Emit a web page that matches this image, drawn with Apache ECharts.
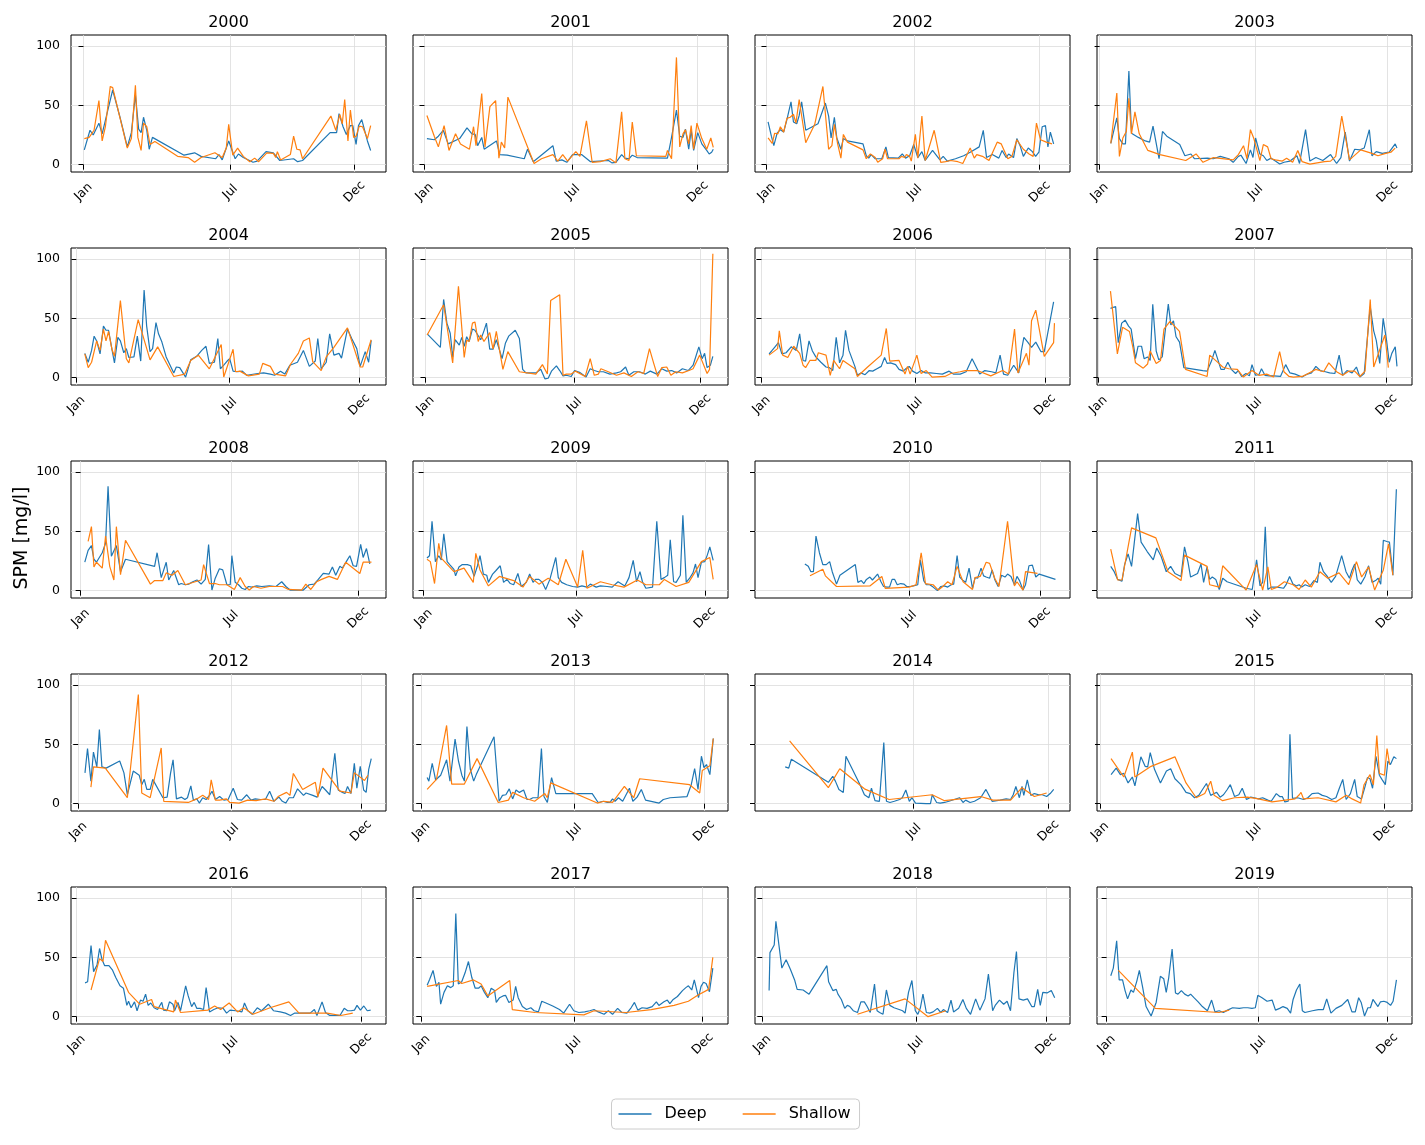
<!DOCTYPE html>
<html><head><meta charset="utf-8">
<script src="https://cdn.jsdelivr.net/npm/echarts@6/dist/echarts.min.js"></script>
<style>html,body{margin:0;padding:0;background:#fff}#c{width:1425px;height:1145px}</style>
</head><body><div id="c"></div>
<script>
const years = [2000,2001,2002,2003,2004,2005,2006,2007,2008,2009,2010,2011,2012,2013,2014,2015,2016,2017,2018,2019];
const tickDays = [0,181,334];
const tickNames = ['Jan','Jul','Dec'];
const yTicks = [0,50,100];
const xRanges = [[-15.4,372.9],[-14,371],[-14,371],[-3,362.5],[-6.3,365.5],[-15.2,367.4],[-7.6,363.3],[-1.6,363.4],[-11.6,367.5],[-12.6,361.6],[0.7,369],[0.2,363],[-8.5,363.4],[-9.7,362.4],[0.7,358.5],[-3.5,366.3],[-6.5,363],[-9.8,364],[-8.6,362],[-11.4,363.5]];
const yRange = [-6.2,109.4];

const deep2000 = [[1,12.5],[8,29],[12,25],[19,35],[23,26],[30,46],[36,63],[45,40],[54,15],[59,27],[64,59],[68,30],[71,27],[74,40],[78,29],[81,13],[85,23],[124,8],[137,10],[145,7],[163,5],[167,8.5],[171,4],[179,20],[187,5],[191,9],[197,6],[209,2],[214,3],[225,11],[234,10],[242,3.5],[259,5],[264,2.5],[270,3.5],[304,27],[312,27],[315,43],[320,32],[324,25.5],[329,33],[332,33],[336,17],[339,33],[343,38],[350,20],[354,12]];
const shallow2000 = [[1,22],[7,23],[13,29],[19,54],[23,20],[27,32],[33,66],[36,65],[54,14],[59,22],[64,67],[67,23],[71,12],[74,35],[78,32],[82,17],[88,19.5],[116,7],[129,6],[137,2],[145,6],[162,10],[171,6],[176,14],[179,34],[184,8],[190,14],[197,7],[205,2.5],[211,5.5],[216,2.5],[226,10],[234,9.5],[237,6],[239,11],[243,4],[255,8.5],[259,24],[263,13],[267,12.5],[270,5],[305,41],[311,29],[316,42.5],[319,34.5],[322,55],[326,20],[329,46],[333,23],[336,24],[340,32.5],[344,32],[350,22],[354,33]];
const deep2001 = [[3,22],[12,21],[17,24],[23,29],[29,17.5],[43,22],[52,31],[58,26],[62,25.5],[65,16],[70,23],[73,13],[88,20],[92,8.5],[101,8],[122,5],[126,13],[133,2.5],[157,16],[161,3],[168,4],[174,2],[181,8.5],[186,8.5],[192,8.5],[203,2.5],[225,3.5],[229,1.5],[234,2],[241,8.5],[245,5.5],[250,5],[254,8],[260,6],[297,5.5],[302,23],[308,46],[312,24],[316,23],[319,30],[323,13],[326,29],[329,12],[334,27],[339,17.5],[345,12],[348,9],[351,10.5],[353,13]];
const shallow2001 = [[3,41.5],[12,24],[17,15],[24,33],[30,12],[38,26],[44,17.5],[55,13],[60,32],[63,16],[70,60],[74,15],[80,49],[87,54],[91,5.5],[94,19],[98,14],[102,57],[134,1],[143,5],[157,8.5],[163,3],[169,8.5],[175,3],[185,11],[190,7],[198,37],[205,2],[215,2.5],[227,5],[234,1.5],[241,44.5],[245,5],[250,3.5],[254,36],[259,7.5],[295,7],[297,12],[302,5],[308,90.5],[312,15],[316,26],[319,29.5],[323,17.5],[326,33],[329,13],[333,35],[339,22],[345,13],[350,22.5],[353,14.5]];
const deep2002 = [[2,36],[6,24],[9,16],[13,26.5],[17,29.5],[21,27.5],[25,38],[30,53],[33,36],[37,34.5],[40,41.5],[43,53],[48,29],[63,34.5],[72,52],[76,41],[79,22.5],[83,40],[86,22.5],[91,13],[94,22],[99,20],[118,17.5],[122,7.5],[125,5.5],[128,8.5],[133,5],[141,5],[146,15],[149,6],[161,5.5],[166,9],[170,5.5],[175,7.5],[180,17],[185,6],[190,11],[194,3.5],[203,12],[212,4],[216,7],[221,3],[231,5],[241,7.5],[249,10.5],[260,15],[265,29],[269,6],[276,8.5],[284,5.5],[288,12],[293,6],[296,9],[302,6],[306,22],[310,16],[314,7],[320,14],[325,11],[329,7],[333,10.5],[337,32],[341,33],[344,15],[347,27.5],[351,17.5]];
const shallow2002 = [[2,22.5],[7,18],[10,26.5],[14,26],[17,32],[21,27.5],[25,39],[29,40],[33,42.5],[36,35],[40,55],[48,18.5],[59,34],[69,66],[76,13],[80,16],[83,34],[87,17.5],[91,5.5],[94,25.5],[99,19],[118,12.5],[122,5],[127,9],[133,6],[136,2],[142,5],[145,13],[148,5],[162,5],[165,7],[169,6],[171,8.5],[175,7],[177,3],[182,25.5],[185,5.5],[190,41],[194,3.5],[205,29],[213,2],[219,2.5],[225,3.5],[234,2.5],[240,1],[249,14],[254,5.5],[257,8.5],[264,7],[272,3.5],[282,19],[287,17.5],[295,5],[300,7],[306,21],[314,13],[321,9],[326,7],[330,35],[335,21],[342,19],[349,17.5]];
const deep2003 = [[13,18],[20,39.5],[23,22],[27,17.5],[30,17.5],[34,79],[37,26.5],[45,23],[53,20],[58,19],[62,32.5],[69,5],[73,28],[78,24],[93,17],[99,7.5],[106,9],[110,5],[125,5.5],[132,5],[140,7],[150,5],[155,2],[161,7],[164,8],[170,1],[175,12.5],[178,6],[181,22.5],[186,9],[190,7.5],[194,3.5],[199,5.5],[204,3],[209,0.5],[214,2],[221,3],[229,7.5],[232,1],[239,29.5],[244,3],[251,6],[259,3.5],[268,8.5],[275,1],[280,6],[285,27.5],[290,3],[296,13],[302,12.5],[307,14],[313,29.5],[316,7.5],[321,11],[328,9.5],[336,10.5],[343,17.5],[345,14]];
const shallow2003 = [[13,18],[20,60.5],[23,7],[27,22.5],[31,28],[34,56],[37,26],[41,44.5],[46,26],[56,12],[70,8.5],[100,3.5],[112,9],[120,2],[132,6],[155,4],[161,8.5],[167,16],[171,5],[175,29.5],[179,22],[186,3.5],[190,17],[195,15],[199,5],[204,4],[212,3],[217,5.5],[224,2],[230,12],[235,2.5],[244,0.5],[261,2.5],[268,3],[274,7],[281,41],[290,4],[303,12.5],[316,9.5],[323,7.5],[332,9.5],[338,10.5],[343,14]];
const deep2004 = [[10,20.5],[14,13],[18,23],[21,35],[24,31],[28,20],[32,43.5],[35,40],[38,40],[42,24],[45,12.5],[49,34],[52,31],[56,21],[59,24.5],[62,17],[68,17.5],[72,35],[76,14],[80,74],[83,43.5],[87,22],[90,24.5],[94,46.5],[97,37],[101,30],[106,17.5],[115,4],[118,9],[122,8.5],[129,0.5],[135,15],[142,18],[148,23],[153,26.5],[157,12],[163,13],[167,33],[170,7.5],[174,10.5],[178,14],[181,16],[185,5.5],[190,5],[196,5.5],[201,2],[214,3.5],[221,4],[229,3],[234,2],[241,5.5],[246,3],[252,10.5],[261,13],[268,23],[275,9.5],[282,14],[285,33],[289,7.5],[295,13],[299,37],[304,19],[310,20.5],[313,16.5],[320,41],[325,33],[331,24.5],[335,9.5],[337,9.5],[341,22],[345,13],[348,31.5]];
const shallow2004 = [[10,20],[14,8.5],[18,13],[24,31],[28,23],[32,41],[35,31],[38,39],[42,24],[45,18],[52,65],[59,16],[62,12.5],[73,49],[87,15],[96,26],[115,1],[128,3],[135,14.5],[144,19],[157,7.5],[171,28],[174,0.5],[185,24],[188,5],[193,5.5],[203,1.5],[216,3],[220,12],[229,9.5],[234,3],[247,1.5],[253,11.5],[262,20.5],[268,31],[275,33.5],[279,13.5],[289,6],[295,17.5],[304,25.5],[320,42],[335,9],[338,9],[348,32]];
const deep2005 = [[2,37],[18,25.5],[22,66],[26,46],[30,37.5],[33,17.5],[36,32],[41,27.5],[44,34],[47,26.5],[50,34.5],[53,30.5],[57,41],[60,40],[67,32],[71,39.5],[74,46],[78,24],[82,24],[86,32],[93,16],[97,29],[101,35],[109,40],[114,33],[118,7],[122,4],[134,4],[140,7],[145,-1],[149,-0.5],[153,5.5],[159,10],[163,6],[167,1.5],[171,2],[177,1],[181,6],[187,4.5],[195,0.5],[200,7.5],[205,6],[210,5],[216,5],[224,3],[232,4],[237,5],[243,9],[247,2],[253,5],[260,5],[267,3],[273,5.5],[281,3],[287,7.5],[293,5.5],[299,6],[305,4],[312,7.5],[319,6],[325,10.5],[332,26],[336,16],[339,20.5],[342,8.5],[346,10.5],[349,18]];
const shallow2005 = [[2,36],[22,61.5],[33,12.5],[40,77],[47,17],[50,31.5],[53,30.5],[57,46],[60,47],[64,30.5],[67,36],[71,30.5],[78,38],[82,24],[86,39],[94,7],[100,22],[114,5],[134,3],[142,11],[148,3],[152,65],[163,70],[167,2],[171,3],[177,3],[182,5.5],[194,1],[200,16],[205,2],[210,3],[213,7.5],[222,5],[232,2],[241,4],[250,1],[258,5],[265,3.5],[272,24.5],[277,12.5],[282,1],[287,8.5],[293,9],[298,2],[304,5],[312,4],[320,6],[325,7.5],[333,19],[342,3.5],[345,7],[349,104.5]];
const deep2006 = [[9,20],[12,22.5],[16,26],[20,29.5],[24,20],[29,21],[35,26],[41,23],[45,37],[49,14.5],[52,14],[56,31],[60,22.5],[64,17.5],[70,13],[76,9],[80,8.5],[84,6],[88,34],[92,12.5],[96,19],[99,40],[103,23],[110,9.5],[113,2],[117,4],[122,2.5],[127,6],[131,5.5],[136,7.5],[141,9.5],[145,17],[148,12],[152,12.5],[158,11],[162,7],[167,5.5],[170,7.5],[174,9.5],[178,5.5],[183,3.5],[188,6],[193,4],[199,4],[206,3.5],[213,3],[221,5.5],[226,3],[234,3],[241,5],[248,16],[257,3],[263,6],[271,5],[276,4],[281,19],[285,3],[290,2],[297,10.5],[303,4],[306,22.5],[309,34],[314,29.5],[318,25.5],[323,30],[329,22],[333,22],[344,64]];
const shallow2006 = [[9,19],[19,24.5],[21,39.5],[25,19],[31,17],[38,26.5],[45,20.5],[49,10.5],[52,8.5],[57,14.5],[64,14.5],[67,21],[76,19],[81,2],[85,14.5],[92,7.5],[96,14.5],[110,7.5],[113,1],[125,9],[141,19],[147,41.5],[151,14],[162,14.5],[169,3],[172,9.5],[175,3],[183,19],[188,3.5],[194,6],[201,0.5],[216,1],[223,3.5],[234,5],[240,6],[254,6],[270,1.5],[284,6],[291,3],[298,41],[302,4],[312,20.5],[315,10.5],[318,48],[323,57],[333,18],[344,29.5],[345,46]];
const deep2007 = [[14,58.5],[20,60],[23,29.5],[27,46],[31,48.5],[35,43.5],[38,41],[43,16],[46,26.5],[50,26.5],[53,16],[57,17.5],[60,14.5],[63,62],[67,22.5],[70,15],[74,17.5],[81,62],[84,44.5],[87,48],[90,34.5],[94,30],[99,8.5],[121,6],[126,5.5],[131,14],[135,23],[139,14],[142,7],[146,7],[150,13],[154,7],[159,3.5],[162,6],[166,1],[171,3.5],[175,1.5],[178,11],[182,2],[186,2.5],[189,7.5],[193,2],[198,1.5],[203,1.5],[211,1],[217,11],[222,4],[228,3],[236,0.5],[242,3],[247,4],[252,9.5],[257,6],[263,5],[268,4],[274,3.5],[279,19],[283,2],[288,6],[294,4],[299,9],[303,0.5],[308,3.5],[315,60],[319,39.5],[322,31.5],[326,12],[330,50],[334,31],[337,13],[340,20.5],[344,26],[346,9.5]];
const shallow2007 = [[14,73],[22,20],[28,42.5],[36,39],[40,25.5],[43,12.5],[52,8],[57,11.5],[60,22.5],[67,12],[72,14.5],[76,41],[83,47.5],[94,39],[101,7],[126,1],[129,19],[139,12.5],[144,9],[151,7.5],[161,7],[168,0.5],[178,6],[186,2],[195,3],[203,0.5],[210,22],[215,5],[221,1],[226,0.5],[236,1],[242,3],[252,7],[261,5],[267,12.5],[276,5],[283,2],[290,5.5],[297,5.5],[303,1],[309,5.5],[315,66],[319,9],[332,36],[336,8.5]];
const deep2008 = [[5,24],[9,34],[13,38],[16,26.5],[19,24],[26,32],[30,40],[33,88],[37,29],[43,38],[48,16],[54,26.5],[89,20.5],[92,32],[97,11],[103,24],[106,9],[108,9.5],[112,17],[118,5],[121,6],[126,5],[130,5.5],[135,7.5],[140,9],[145,5.5],[150,9.5],[154,39],[158,0.5],[162,10.5],[167,18.5],[171,17.5],[176,5],[180,5],[182,29.5],[186,7],[190,5],[194,2],[198,1],[202,3.5],[206,3],[212,4],[218,3.5],[227,4],[235,3.5],[242,7.5],[247,3.5],[252,0.5],[268,0.5],[275,5],[281,5.5],[286,9.5],[292,14.5],[299,14],[303,20],[307,13],[312,20.5],[315,19],[321,26],[324,29.5],[328,21],[332,20.5],[337,39],[340,28],[344,35.5],[348,22.5]];
const shallow2008 = [[9,41.5],[13,54],[16,20],[19,24],[26,19],[30,46],[35,20.5],[40,9],[43,54],[48,13.5],[54,42.5],[84,5.5],[89,8.5],[99,8.5],[103,15],[110,13],[117,17],[126,5],[145,9],[148,22],[155,6],[162,6],[167,5],[176,5],[185,1],[192,11],[198,3.5],[203,0.5],[208,3.5],[217,2],[227,3.5],[243,3.5],[250,1],[266,0.5],[271,5.5],[277,1],[284,7.5],[290,9.5],[299,12],[309,9.5],[319,24],[336,14.5],[340,24],[350,24]];
const deep2009 = [[4,27.5],[7,29.5],[10,58.5],[14,24.5],[18,29.5],[21,26],[24,48],[28,24.5],[31,22],[36,18],[38,12.5],[42,20],[46,22],[52,22],[56,21],[60,12],[64,21],[67,29.5],[71,14],[75,13],[77,7],[82,14],[86,17],[91,21],[95,7],[99,9.5],[103,6],[107,5],[112,14.5],[116,3.5],[122,7],[126,14],[130,7],[133,9.5],[137,9.5],[141,7],[145,1],[150,9.5],[157,28],[160,11],[164,7],[170,5],[177,3.5],[183,3],[188,4],[194,3],[198,5.5],[205,3],[210,4],[218,3.5],[224,3],[231,7.5],[239,4],[244,11],[249,25.5],[253,7.5],[257,16],[260,7.5],[264,2],[272,3],[277,58.5],[282,9.5],[286,11],[290,13],[293,43],[297,7.5],[300,7],[305,13],[308,63.5],[312,7],[316,10.5],[320,15],[323,22.5],[326,11],[330,24],[334,24.5],[337,30],[340,37],[344,25.5]];
const shallow2009 = [[4,26.5],[8,24.5],[13,6],[18,40],[21,27.5],[36,16],[48,19],[59,7],[62,31.5],[67,17.5],[77,4],[90,12],[107,8.5],[118,3],[126,12],[137,5.5],[148,10.5],[160,5],[169,26.5],[183,3],[189,34],[194,2],[210,7.5],[224,5],[238,3],[254,9],[264,5],[280,5],[286,9.5],[300,3.5],[315,7],[330,24.5],[340,28],[344,9.5]];
const deep2010 = [[59,22.5],[63,20.5],[66,16],[69,16],[72,46],[76,32],[80,22],[84,22],[88,24.5],[91,16],[96,5.5],[100,13],[118,22],[121,7],[125,8.5],[128,6],[131,9.5],[135,11.5],[138,9],[141,11.5],[144,14],[148,7.5],[151,3.5],[155,3],[158,3],[161,9.5],[164,9.5],[167,5],[171,6],[175,5.5],[178,3.5],[182,3.5],[186,4],[191,5],[194,26],[198,8.5],[201,5],[205,5],[209,3],[214,0],[218,3.5],[222,4],[226,3],[230,5],[233,5.5],[237,29.5],[240,11.5],[244,8.5],[247,7],[251,19],[255,2],[258,11],[261,10.5],[265,19],[268,12.5],[271,11.5],[275,10.5],[278,17.5],[281,9.5],[285,3.5],[289,13],[293,11.5],[296,14],[300,12],[304,5],[307,12],[310,8.5],[314,0.5],[317,5],[321,21],[325,21.5],[329,11.5],[333,14],[352,9.5]];
const shallow2010 = [[65,12.5],[80,18],[83,12.5],[96,3.5],[135,4],[149,12],[153,2],[181,3],[189,5],[195,32],[200,6],[209,5],[215,0.5],[221,4],[226,7.5],[231,5],[237,20.5],[244,7.5],[255,1],[258,11],[264,12],[271,24],[275,23],[281,10.5],[286,3.5],[296,58.5],[304,4],[307,7.5],[314,0.5],[317,16],[331,14.5]];
const deep2011 = [[16,20.5],[20,16],[24,9.5],[29,8],[32,22],[36,31],[40,20.5],[43,39.5],[47,65],[51,41],[58,33],[65,26],[69,36],[74,29],[80,16],[85,20.5],[90,14.5],[97,12],[101,37],[105,24],[108,11.5],[112,13],[116,14.5],[120,22.5],[123,7],[127,20],[130,9.5],[133,11.5],[137,9.5],[141,1],[145,10.5],[150,7.5],[172,2],[179,1],[184,26],[188,4],[191,7],[194,54],[197,1],[201,3],[208,3],[215,2],[218,5],[222,12],[226,5.5],[230,4],[233,5],[236,3],[240,5],[245,3.5],[250,8.5],[254,7],[257,24],[261,16],[265,12.5],[270,7],[275,12],[282,29.5],[287,16],[291,10.5],[294,17.5],[297,22.5],[300,9],[304,5.5],[309,12],[313,21],[317,7],[321,8.5],[324,10.5],[327,5.5],[330,42.5],[334,41.5],[337,41],[341,13],[345,85.5]];
const shallow2011 = [[16,35],[24,9],[29,9],[40,53],[68,44.5],[82,16],[97,8.5],[101,30],[127,20.5],[130,5],[141,3],[145,21],[172,0.5],[184,22],[191,0.5],[197,20],[201,1],[208,3],[216,7.5],[226,5],[233,1],[240,9],[247,3],[257,16],[266,10.5],[279,15],[290,5],[299,24.5],[305,11.5],[313,20],[320,0.5],[330,17.5],[336,39.5],[341,13]];
const deep2012 = [[8,26],[11,46.5],[15,19],[18,43.5],[22,31],[25,62.5],[28,31],[33,30],[49,36],[54,26],[58,7.5],[65,27.5],[72,24],[75,16],[78,20.5],[81,12],[85,12],[88,20.5],[100,5],[105,5.5],[109,25.5],[112,37],[116,4],[122,5.5],[126,3.5],[129,5],[133,15],[136,3],[140,4],[143,0.5],[147,5],[151,3.5],[155,7],[158,10.5],[162,3.5],[167,6],[172,3],[177,3.5],[183,13],[188,3.5],[193,3],[199,7.5],[204,3],[209,4],[215,3.5],[221,3.5],[226,10.5],[231,2],[237,5.5],[241,2],[245,0.5],[249,5],[254,5],[259,12.5],[266,7],[269,9],[277,7],[282,5.5],[288,14.5],[292,11.5],[297,7.5],[303,42.5],[307,11.5],[312,9.5],[315,8.5],[318,14.5],[322,8.5],[326,34],[329,13],[333,31.5],[337,11.5],[340,9.5],[343,29],[346,38]];
const shallow2012 = [[15,14],[18,31],[32,30],[58,5],[71,92],[75,9],[85,5],[98,47],[101,2],[130,1],[140,4],[147,7],[154,3.5],[157,20],[162,3],[167,3],[175,4],[179,1],[190,0.5],[200,3],[210,2.5],[221,4],[231,2],[236,6],[246,9.5],[250,7],[254,25.5],[265,12],[280,18],[283,5.5],[289,30],[309,10.5],[322,9],[326,26],[329,24.5],[338,19.5],[342,24]];
const deep2013 = [[7,22],[9,19],[13,34],[17,20],[23,24],[30,37],[34,19],[40,54.5],[44,36],[48,24],[51,19],[54,65],[58,29],[62,19],[65,24.5],[86,56.5],[92,2],[96,7],[100,7.5],[104,12.5],[108,4],[112,11.5],[116,9.5],[121,11.5],[125,3.5],[128,3.5],[132,5],[138,5],[142,46.5],[145,6],[149,1],[154,22],[159,8.5],[180,8.5],[202,8.5],[209,1],[215,2],[220,1],[223,1],[226,4],[229,2],[233,5],[238,2],[242,7.5],[246,13],[250,2],[255,5.5],[260,12],[265,3],[281,0.5],[286,3.5],[294,5],[314,6],[319,16],[323,29.5],[327,12],[331,40],[334,30.5],[337,33],[341,24.5],[345,55]];
const shallow2013 = [[7,12],[18,20.5],[30,66],[36,16.5],[51,16.5],[66,38],[91,1],[103,3],[108,9.5],[121,5],[134,2],[146,8.5],[149,5],[153,17.5],[208,0.5],[216,2],[226,1],[240,14.5],[251,5],[258,21],[317,16],[329,9],[332,28],[341,32],[345,55]];
const deep2014 = [[35,31],[39,30],[42,37.5],[84,18],[89,23],[92,19],[96,12],[101,9.5],[104,40],[120,16],[125,7.5],[130,5],[133,13],[137,2.5],[142,2],[144,3.5],[147,51.5],[150,2],[154,1],[159,2],[165,3.5],[168,5],[172,11.5],[176,2],[179,5],[183,0.5],[195,0],[200,0],[202,7.5],[207,1],[211,0.5],[216,1],[221,2],[227,3.5],[233,5],[237,1],[240,3],[245,1],[250,2],[257,5],[263,12],[270,2],[279,3],[286,4],[291,3.5],[294,7.5],[297,14.5],[301,5],[304,14.5],[306,7],[310,20],[314,7],[318,8.5],[323,7.5],[327,7.5],[332,6],[336,8.5],[340,12]];
const shallow2014 = [[40,53],[84,13.5],[97,29.5],[125,12.5],[153,3.5],[202,7.5],[216,2.5],[257,6],[271,3],[291,3],[304,13.5],[318,6],[332,9]];
const deep2015 = [[13,24.5],[19,30],[24,24.5],[28,25.5],[33,17.5],[38,22.5],[41,15],[48,39.5],[53,31.5],[56,31],[59,43],[64,29],[71,17.5],[78,27.5],[83,29.5],[88,21],[95,16],[101,9.5],[106,8.5],[111,5],[116,7],[120,11.5],[125,17],[130,7],[134,8.5],[137,9.5],[141,5.5],[145,7.5],[149,11.5],[153,16],[158,6],[163,7.5],[167,13],[172,3.5],[177,5.5],[181,5],[186,4],[191,5],[197,3],[201,2],[207,8.5],[211,6],[214,6],[217,1.5],[221,2],[223,58.5],[226,4.5],[232,5],[239,3.5],[244,5],[249,8.5],[256,9],[261,7],[266,6],[272,3.5],[277,5],[281,13],[285,20.5],[289,3.5],[294,8.5],[299,20.5],[302,6],[307,4],[311,14],[314,22],[317,21],[320,13],[324,40],[328,24],[331,20.5],[335,16],[338,36],[341,33],[345,39.5],[348,38]];
const shallow2015 = [[13,38],[28,22.5],[38,43.5],[41,22.5],[60,31.5],[88,39.5],[101,17.5],[113,5],[123,8.5],[130,19],[134,7],[144,2.5],[158,5],[173,5.5],[186,4],[202,1.5],[229,4],[234,7.5],[236,9.5],[239,4],[256,5],[277,1.5],[289,7],[296,4],[306,0.5],[310,16],[317,24.5],[321,16],[325,57.5],[328,25.5],[334,24],[337,46.5],[340,33]];
const deep2016 = [[10,28.5],[13,29.5],[17,60],[20,38],[24,43.5],[27,57.5],[30,48],[33,43],[38,43],[42,39.5],[46,33],[51,26],[55,24],[59,9.5],[61,13],[64,7.5],[68,12.5],[71,5],[75,14],[78,13],[81,19],[84,9.5],[87,11.5],[91,7.5],[95,6],[100,12],[102,5.5],[106,5],[109,12.5],[113,10.5],[115,5],[119,12],[122,5],[128,26],[131,17.5],[135,8.5],[138,12],[141,7],[145,7],[149,6],[152,24.5],[156,4],[161,6],[166,7.5],[172,7],[176,3],[180,5.5],[187,5],[194,4],[197,11.5],[201,5],[206,2],[212,7.5],[217,5],[225,10.5],[231,5],[239,4],[245,3],[251,1],[256,3],[261,3],[269,3],[274,3],[279,6],[282,1],[288,12.5],[292,3.5],[297,1],[304,1],[309,1],[314,7],[318,5],[322,5],[326,5.5],[329,9.5],[333,5.5],[337,9],[341,5],[345,5.5]];
const shallow2016 = [[17,22.5],[27,49],[31,46.5],[34,64.5],[61,20.5],[74,10.5],[88,14.5],[91,8.5],[114,4],[116,14],[122,3.5],[154,5.5],[162,9],[169,6],[179,11.5],[189,4],[196,7.5],[207,2],[227,7.5],[249,12.5],[261,3],[281,3],[294,3],[310,1],[324,3]];
const deep2017 = [[7,26.5],[10,31.5],[14,39],[18,25.5],[21,29],[23,10.5],[27,20.5],[31,26],[35,24.5],[38,26],[41,87],[44,27.5],[48,29.5],[52,37],[56,46.5],[60,33],[64,24],[68,24],[71,26],[75,20.5],[79,16],[83,24],[87,22],[89,12],[93,16],[97,17.5],[100,18],[104,12],[109,14],[112,25.5],[115,16],[120,8.5],[125,6],[130,7.5],[134,5],[139,4],[143,13],[148,11.5],[156,9],[164,6],[169,3],[176,10.5],[181,5],[187,3.5],[194,4],[200,5],[205,6],[210,4],[217,2],[222,5],[227,2],[233,7],[238,3.5],[244,3],[249,7.5],[253,12],[257,5.5],[262,7.5],[268,7],[274,8.5],[279,12.5],[282,9.5],[288,12.5],[292,14],[295,11],[299,14.5],[304,17],[310,22],[314,24.5],[317,26],[321,22.5],[324,31],[329,16],[332,25.5],[335,29],[338,28],[342,21],[346,41]];
const shallow2017 = [[7,25.5],[44,30.5],[48,28],[62,31],[71,27.5],[79,17.5],[105,30.5],[108,6],[135,3.5],[193,1.5],[205,5],[243,3.5],[273,6],[300,9.5],[317,13],[328,18],[341,23],[343,22.5],[346,50]];
const deep2018 = [[8,22],[9,54],[14,60.5],[16,80.5],[23,41],[28,48],[29,49],[33,40],[38,31],[41,23],[48,22.5],[55,19],[76,43],[78,29.5],[83,22],[87,23],[89,19],[93,14.5],[97,7],[100,9.5],[103,8.5],[107,5],[112,3.5],[116,12.5],[120,12.5],[123,9],[127,3.5],[132,27.5],[135,5],[138,3.5],[142,2],[146,22.5],[150,9.5],[155,7.5],[161,6],[165,5],[168,3],[172,20.5],[176,30.5],[180,5],[183,2],[186,7.5],[189,19],[193,3.5],[197,3],[201,4],[206,7],[210,3.5],[213,6],[218,3.5],[222,14],[225,4],[231,7],[236,14.5],[240,7],[245,2],[251,15],[256,5.5],[262,15],[266,36],[271,5],[274,9.5],[279,14],[284,10.5],[288,13],[292,5],[296,37],[299,55],[302,15],[307,14],[312,15],[317,8.5],[320,8.5],[324,23],[327,9.5],[330,20.5],[335,20],[340,22],[344,16]];
const shallow2018 = [[112,2],[168,15],[195,0],[216,5]];
const deep2019 = [[5,34.5],[8,41],[12,64],[15,31],[19,31],[22,22],[25,15],[29,22.5],[32,20.5],[36,30],[39,39],[43,24.5],[47,8.5],[53,0.5],[59,12],[64,34],[68,32],[71,20.5],[74,33],[78,57],[82,20],[85,19],[89,22],[93,19],[97,17.5],[100,19],[104,16],[109,12.5],[114,8.5],[120,5],[125,14],[129,4],[134,5],[139,3.5],[144,5.5],[150,7.5],[158,7],[163,7.5],[168,7.5],[173,7],[177,7.5],[180,18],[185,16],[191,13],[197,14],[201,5.5],[206,7],[210,8.5],[215,7],[219,3],[222,14.5],[226,22.5],[230,27.5],[233,5],[236,3.5],[245,5],[252,6],[258,6],[262,15],[267,3],[273,7],[280,9.5],[287,14.5],[292,4],[296,4],[300,16],[303,12],[307,0.5],[311,7.5],[314,7.5],[317,14.5],[323,8.5],[326,12.5],[330,13],[334,12],[338,9.5],[341,13],[345,31]];
const shallow2019 = [[14,39],[58,7],[134,3.5],[146,5.5]];

const deepSeries = [deep2000,deep2001,deep2002,deep2003,deep2004,deep2005,deep2006,deep2007,deep2008,deep2009,deep2010,deep2011,deep2012,deep2013,deep2014,deep2015,deep2016,deep2017,deep2018,deep2019];
const shallowSeries = [shallow2000,shallow2001,shallow2002,shallow2003,shallow2004,shallow2005,shallow2006,shallow2007,shallow2008,shallow2009,shallow2010,shallow2011,shallow2012,shallow2013,shallow2014,shallow2015,shallow2016,shallow2017,shallow2018,shallow2019];

const FONT = '"DejaVu Sans", sans-serif';
const BLUE = '#1f77b4', ORANGE = '#ff7f0e';
const LEFT0 = 71, TOP0 = 35, DX = 342, DY = 213, W = 315, H = 137;

const grid = [], xAxis = [], yAxis = [], series = [], graphic = [];
years.forEach((yr, i) => {
  const c = i % 4, r = Math.floor(i / 4);
  const left = LEFT0 + c * DX, top = TOP0 + r * DY;
  grid.push({left, top, width: W, height: H, show: true, borderColor: '#000', borderWidth: 1,
    backgroundColor: 'transparent', containLabel: false, outerBoundsMode: 'none'});
  xAxis.push({
    type: 'value', gridIndex: i, min: xRanges[i][0], max: xRanges[i][1],
    axisLine: {show: false},
    axisTick: {show: true, customValues: tickDays, length: 5, inside: false, lineStyle: {color: '#000', width: 1}},
    axisLabel: {show: true, customValues: tickDays, formatter: v => { const k = tickDays.indexOf(v); return k >= 0 ? tickNames[k] : ''; },
      rotate: 45, align: 'center', verticalAlign: 'middle', margin: 20, fontSize: 12.5, color: '#000', fontFamily: FONT},
    splitLine: {show: true, lineStyle: {color: '#dcdcdc', width: 0.8}}
  });
  yAxis.push({
    type: 'value', gridIndex: i, min: yRange[0], max: yRange[1],
    axisLine: {show: false},
    axisTick: {show: true, customValues: yTicks, length: 5, inside: false, lineStyle: {color: '#000', width: 1}},
    axisLabel: {show: c === 0, customValues: yTicks, margin: 11, fontSize: 12.5, color: '#000', fontFamily: FONT},
    splitLine: {show: true, lineStyle: {color: '#dcdcdc', width: 0.8}}
  });
  series.push({name: 'Deep', type: 'line', xAxisIndex: i, yAxisIndex: i, data: deepSeries[i],
    symbol: 'none', showSymbol: false, lineStyle: {width: 1.2, color: BLUE}, itemStyle: {color: BLUE}, z: 2});
  series.push({name: 'Shallow', type: 'line', xAxisIndex: i, yAxisIndex: i, data: shallowSeries[i],
    symbol: 'none', showSymbol: false, lineStyle: {width: 1.2, color: ORANGE}, itemStyle: {color: ORANGE}, z: 3});
  graphic.push({type: 'text', x: left + W / 2, y: top - 12, silent: true,
    style: {text: String(yr), fill: '#000', fontSize: 16, fontFamily: FONT, align: 'center', verticalAlign: 'middle'}});
});
graphic.push({type: 'text', x: 22, y: 538, rotation: Math.PI / 2, silent: true,
  style: {text: 'SPM [mg/l]', fill: '#000', fontSize: 19, fontFamily: FONT, align: 'center', verticalAlign: 'middle'}});

const chart = echarts.init(document.getElementById('c'), null, {renderer: 'canvas', width: 1425, height: 1145});
chart.setOption({
  backgroundColor: '#fff',
  animation: false,
  grid, xAxis, yAxis, series, graphic,
  legend: {
    data: ['Deep', 'Shallow'], left: 611.5, top: 1099, orient: 'horizontal',
    icon: 'rect', itemWidth: 33, itemHeight: 1.3, itemGap: 36,
    padding: [7, 9, 7, 7], borderColor: '#cccccc', borderWidth: 1, borderRadius: 4,
    backgroundColor: '#fff',
    textStyle: {fontSize: 16, lineHeight: 16, color: '#000', fontFamily: FONT, padding: [0, 0, 0, 8]}
  }
});
</script>
</body></html>
